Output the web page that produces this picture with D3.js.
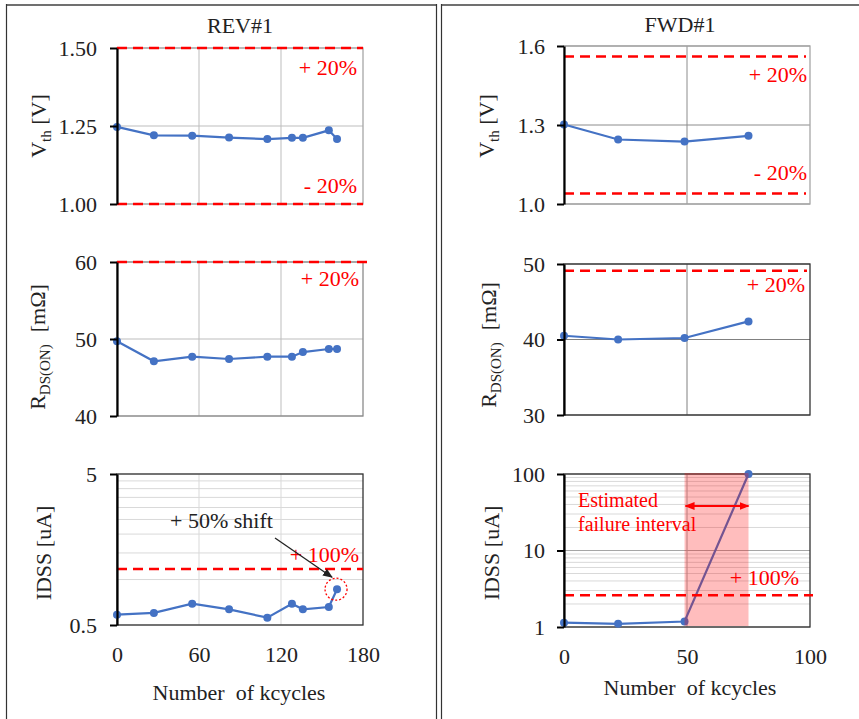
<!DOCTYPE html>
<html>
<head>
<meta charset="utf-8">
<script src="https://cdn.jsdelivr.net/npm/d3@7"></script>
<style>
  body { margin: 0; background: #fff; }
  svg { display: block; }
  text { font-family: "Liberation Serif", "Times New Roman", serif; fill: #222; }
</style>
</head>
<body>
<div id="chart"></div>
<script>
// REV#1 measurements
const revCycles = [0, 27, 55, 82, 110, 128, 136, 155, 161];
const revVth = [1.247, 1.220, 1.219, 1.213, 1.208, 1.212, 1.212, 1.236, 1.208];
const revRds = [49.7, 47.1, 47.7, 47.4, 47.7, 47.7, 48.3, 48.7, 48.7];
const revIdss = [0.585, 0.601, 0.692, 0.635, 0.559, 0.692, 0.635, 0.658, 0.863];

// FWD#1 measurements
const fwdCycles = [0, 22, 49, 75];
const fwdVth = [1.302, 1.245, 1.237, 1.259];
const fwdRds = [40.5, 40.0, 40.2, 42.4];
const fwdIdss = [1.14, 1.10, 1.18, 100];

// limits (red dashed lines)
const revVthLimits = [1.5, 1.0];
const revRdsLimits = [60];
const revIdssLimits = [1.175];
const fwdVthLimits = [1.56, 1.04];
const fwdRdsLimits = [49.1];
const fwdIdssLimits = [2.6];
const failureInterval = [49, 75];

// tick labels
const revXTicks = [0, 60, 120, 180];
const fwdXTicks = [0, 50, 100];
const revVthTicks = [1.0, 1.25, 1.5];
const revRdsTicks = [40, 50, 60];
const revIdssTicks = [0.5, 5];
const fwdVthTicks = [1.0, 1.3, 1.6];
const fwdRdsTicks = [30, 40, 50];
const fwdIdssTicks = [1, 10, 100];

const W = 859, H = 719;
const blue = "#4472c4", red = "#ff0000";

const svg = d3.select("#chart").append("svg").attr("width", W).attr("height", H);

const defs = svg.append("defs");
const mk = (id, color) =>
  defs.append("marker").attr("id", id)
    .attr("viewBox", "0 0 10 10").attr("refX", 9).attr("refY", 5)
    .attr("markerWidth", 10).attr("markerHeight", 10)
    .attr("markerUnits", "userSpaceOnUse")
    .attr("orient", "auto-start-reverse")
    .append("path").attr("d", "M0,1 L10,5 L0,9 Z").attr("fill", color);
mk("arrRed", red);
mk("arrBlack", "#222");

// frames
const frame = svg.append("g");
frame.append("line").attr("x1", 6).attr("x2", 436).attr("y1", 5).attr("y2", 5).attr("stroke", "#707070").attr("stroke-width", 2);
frame.append("line").attr("x1", 442).attr("x2", 859).attr("y1", 5).attr("y2", 5).attr("stroke", "#707070").attr("stroke-width", 2);
[6.5, 436.5, 441.5].forEach((x) =>
  frame.append("line").attr("x1", x).attr("x2", x).attr("y1", 4).attr("y2", H).attr("stroke", "#333").attr("stroke-width", 1.2));

svg.append("text").attr("x", 240).attr("y", 33).attr("text-anchor", "middle").style("font-size", "22px").text("REV#1");
svg.append("text").attr("x", 680).attr("y", 32).attr("text-anchor", "middle").style("font-size", "22px").text("FWD#1");

function drawPanel(p) {
  const g = svg.append("g");
  const x = d3.scaleLinear().domain(p.xDomain).range([p.left, p.right]);
  const y = (p.log ? d3.scaleLog() : d3.scaleLinear()).domain(p.yDomain).range([p.bottom, p.top]);

  // minor grid
  g.selectAll(".minor").data(p.minor || []).join("line")
    .attr("x1", p.left).attr("x2", p.right)
    .attr("y1", (d) => y(d)).attr("y2", (d) => y(d))
    .attr("stroke", "#d9d9d9").attr("stroke-width", 1);
  // major grid
  g.selectAll(".hgrid").data(p.yTicks).join("line")
    .attr("x1", p.left).attr("x2", p.right)
    .attr("y1", (d) => y(d)).attr("y2", (d) => y(d))
    .attr("stroke", p.grid).attr("stroke-width", 1);
  g.selectAll(".vgrid").data(p.xTicks.slice(1, -1)).join("line")
    .attr("x1", (d) => x(d)).attr("x2", (d) => x(d))
    .attr("y1", p.top).attr("y2", p.bottom)
    .attr("stroke", p.grid).attr("stroke-width", 1);

  g.append("rect").attr("x", p.left).attr("y", p.top)
    .attr("width", p.right - p.left).attr("height", p.bottom - p.top)
    .attr("fill", "none").attr("stroke", p.border).attr("stroke-width", 1.3);

  const line = d3.line().x((d) => x(d[0])).y((d) => y(d[1]));
  const pts = d3.zip(p.xs, p.ys);
  g.append("path").datum(pts).attr("d", line)
    .attr("fill", "none").attr("stroke", blue).attr("stroke-width", 2.2);
  g.selectAll(".pt").data(pts).join("circle")
    .attr("cx", (d) => x(d[0])).attr("cy", (d) => y(d[1])).attr("r", 4)
    .attr("fill", blue);

  if (p.band) {
    g.append("rect").attr("x", x(p.band[0])).attr("width", x(p.band[1]) - x(p.band[0]))
      .attr("y", p.top - 1).attr("height", p.bottom - p.top)
      .attr("fill", red).attr("fill-opacity", 0.26);
  }

  g.selectAll(".lim").data(p.limits).join("line")
    .attr("x1", p.left).attr("x2", p.right + (p.limExtra || 0))
    .attr("y1", (d) => y(d)).attr("y2", (d) => y(d))
    .attr("stroke", red).attr("stroke-width", 2.5).attr("stroke-dasharray", "10,6");

  (p.limitLabels || []).forEach((l) =>
    g.append("text").attr("x", l.x).attr("y", l.y).attr("text-anchor", "end")
      .style("font-size", "22px").style("fill", red).text(l.t));

  // y axis
  const ya = d3.axisLeft(y).tickValues(p.yTicks).tickSize(7).tickSizeOuter(0)
    .tickPadding(p.left - 7 - p.labelRight).tickFormat(p.yFormat);
  const yg = g.append("g").attr("transform", `translate(${p.left},0)`).call(ya);
  yg.select(".domain").attr("stroke", "#000").attr("stroke-width", 2.2);
  yg.selectAll(".tick line").attr("stroke", "#000").attr("stroke-width", 2);
  yg.selectAll("text").style("font-size", "22px").style("font-family", "Liberation Serif, serif").attr("fill", "#222");

  if (p.showX) {
    const xa = d3.axisBottom(x).tickValues(p.xTicks).tickSize(0).tickPadding(21);
    const xg = g.append("g").attr("transform", `translate(0,${p.bottom})`).call(xa);
    xg.select(".domain").remove();
    xg.selectAll("text").style("font-size", "22px").style("font-family", "Liberation Serif, serif").attr("fill", "#222");
  }

  // y label
  const yl = g.append("text").attr("transform", `translate(${p.ylx},${p.yly}) rotate(-90)`)
    .attr("text-anchor", "middle").style("font-size", "22px");
  p.ylabel.forEach((s) => {
    const t = yl.append("tspan").text(s.t);
    if (s.sub) t.style("font-size", "15px").attr("dy", 5);
    if (s.back) t.attr("dy", -5);
    if (s.dx) t.attr("dx", s.dx);
  });
  return { x, y, g };
}

const revX = { xDomain: [0, 180], left: 117, right: 363, xTicks: revXTicks, labelRight: 97 };
const fwdX = { xDomain: [0, 100], left: 564, right: 810, xTicks: fwdXTicks, labelRight: 545 };
const vthLabel = [{ t: "V" }, { t: "th", sub: true }, { t: " [V]", back: true }];
const rdsLabel = [{ t: "R" }, { t: "DS(ON)", sub: true }, { t: "[mΩ]", back: true, dx: 12 }];
const idssLabel = [{ t: "IDSS [uA]" }];

drawPanel({ ...revX, top: 48, bottom: 204, yDomain: [1.0, 1.5], yTicks: revVthTicks,
  yFormat: d3.format(".2f"), xs: revCycles, ys: revVth, limits: revVthLimits,
  grid: "#bdbdbd", border: "#a6a6a6", ylabel: vthLabel, ylx: 46, yly: 126,
  limitLabels: [{ t: "+ 20%", x: 357, y: 75 }, { t: "- 20%", x: 357, y: 193 }] });

drawPanel({ ...revX, top: 262, bottom: 416, yDomain: [40, 60], yTicks: revRdsTicks,
  yFormat: d3.format("d"), xs: revCycles, ys: revRds, limits: revRdsLimits, limExtra: 5,
  grid: "#bdbdbd", border: "#8a8a8a", ylabel: rdsLabel, ylx: 45, yly: 347,
  limitLabels: [{ t: "+ 20%", x: 359, y: 286 }] });

const rev3 = drawPanel({ ...revX, top: 474, bottom: 625, log: true, yDomain: [0.5, 5], yTicks: revIdssTicks,
  minor: [1, 1.5, 2, 2.5, 3, 3.5, 4, 4.5],
  yFormat: (d) => String(d), xs: revCycles, ys: revIdss, limits: revIdssLimits,
  grid: "#d9d9d9", border: "#333", ylabel: idssLabel, ylx: 51, yly: 553, showX: true,
  limitLabels: [{ t: "+ 100%", x: 359, y: 562 }] });

drawPanel({ ...fwdX, top: 46, bottom: 204, yDomain: [1.0, 1.6], yTicks: fwdVthTicks,
  yFormat: d3.format(".1f"), xs: fwdCycles, ys: fwdVth, limits: fwdVthLimits, limExtra: -4,
  grid: "#8c8c8c", border: "#a6a6a6", ylabel: vthLabel, ylx: 494, yly: 126,
  limitLabels: [{ t: "+ 20%", x: 807, y: 82 }, { t: "- 20%", x: 807, y: 180 }] });

drawPanel({ ...fwdX, top: 264, bottom: 415, yDomain: [30, 50], yTicks: fwdRdsTicks,
  yFormat: d3.format("d"), xs: fwdCycles, ys: fwdRds, limits: fwdRdsLimits, limExtra: -3,
  grid: "#808080", border: "#333", ylabel: rdsLabel, ylx: 496, yly: 345,
  limitLabels: [{ t: "+ 20%", x: 805, y: 292 }] });

const fwd3 = drawPanel({ ...fwdX, top: 474, bottom: 627, log: true, yDomain: [1, 100], yTicks: fwdIdssTicks,
  minor: [2, 3, 4, 5, 6, 7, 8, 9, 20, 30, 40, 50, 60, 70, 80, 90],
  yFormat: (d) => String(d), xs: fwdCycles, ys: fwdIdss, limits: fwdIdssLimits, limExtra: 3,
  grid: "#a6a6a6", border: "#333", ylabel: idssLabel, ylx: 499, yly: 553, showX: true,
  band: failureInterval,
  limitLabels: [{ t: "+ 100%", x: 799, y: 585 }] });

// failure interval annotation
fwd3.g.append("line")
  .attr("x1", fwd3.x(failureInterval[0]) + 1).attr("x2", fwd3.x(failureInterval[1]))
  .attr("y1", 506).attr("y2", 506)
  .attr("stroke", red).attr("stroke-width", 2)
  .attr("marker-start", "url(#arrRed)").attr("marker-end", "url(#arrRed)");
const est = fwd3.g.append("text").attr("x", 578).attr("y", 507).style("font-size", "20px").style("fill", red);
est.append("tspan").text("Estimated");
est.append("tspan").attr("x", 578).attr("dy", 24).text("failure interval");

// +50% shift annotation
const lastX = rev3.x(revCycles[revCycles.length - 1]);
const lastY = rev3.y(revIdss[revIdss.length - 1]);
rev3.g.append("circle").attr("cx", lastX - 1).attr("cy", lastY).attr("r", 11)
  .attr("fill", "none").attr("stroke", red).attr("stroke-width", 1.3).attr("stroke-dasharray", "2,2");
rev3.g.append("line").attr("x1", 275).attr("y1", 538).attr("x2", lastX - 5).attr("y2", lastY - 12)
  .attr("stroke", "#222").attr("stroke-width", 1.3).attr("marker-end", "url(#arrBlack)");
rev3.g.append("text").attr("x", 170).attr("y", 528).style("font-size", "22px").text("+ 50% shift");

// x titles
svg.append("text").attr("x", 239).attr("y", 700).attr("text-anchor", "middle").style("font-size", "22px")
  .attr("xml:space", "preserve").text("Number  of kcycles");
svg.append("text").attr("x", 690).attr("y", 695).attr("text-anchor", "middle").style("font-size", "22px")
  .attr("xml:space", "preserve").text("Number  of kcycles");
</script>
</body>
</html>
